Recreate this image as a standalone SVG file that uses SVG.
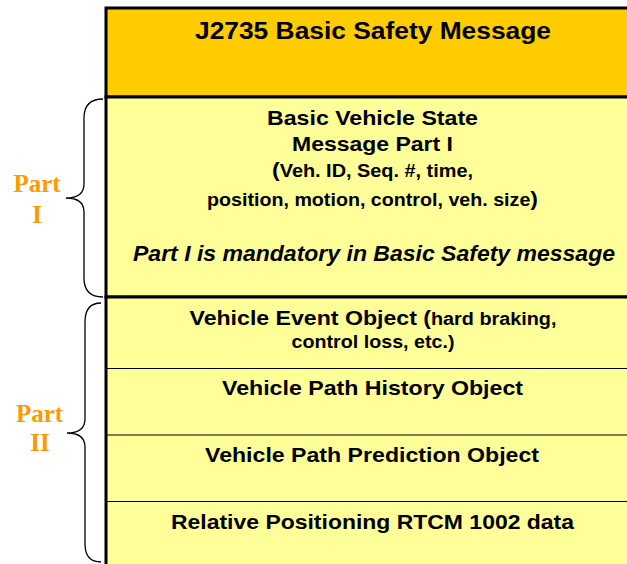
<svg xmlns="http://www.w3.org/2000/svg" width="627" height="564" viewBox="0 0 627 564">
<style>
.t{font-family:"Liberation Sans",Arial,sans-serif;font-weight:bold;fill:#000;text-anchor:middle}
.p{font-family:"Liberation Serif","Times New Roman",serif;font-weight:bold;fill:#FF9900;text-anchor:middle;font-size:25px}
.br{fill:none;stroke:#000;stroke-width:1.3}
.sep{stroke:#000;stroke-width:1.2}
</style>
<rect width="627" height="564" fill="#fff"/>
<g id="header">
<rect x="106" y="8" width="530" height="89" fill="#FFCC00" stroke="#000" stroke-width="3"/>
<text class="t" x="373" y="38.5" font-size="23.5" textLength="356" lengthAdjust="spacingAndGlyphs">J2735 Basic Safety Message</text>
</g>
<g id="part1">
<rect x="106" y="97" width="530" height="200" fill="#FFFF99" stroke="#000" stroke-width="3"/>
<text class="t" x="372.5" y="124.5" font-size="21" textLength="211" lengthAdjust="spacingAndGlyphs">Basic Vehicle State</text>
<text class="t" x="372.5" y="151" font-size="21" textLength="161" lengthAdjust="spacingAndGlyphs">Message Part I</text>
<text class="t" x="372.5" y="177" font-size="18" textLength="201" lengthAdjust="spacingAndGlyphs"><tspan font-size="21">(</tspan>Veh. ID, Seq. #, time,</text>
<text class="t" x="372.5" y="206" font-size="18" textLength="331" lengthAdjust="spacingAndGlyphs">position, motion, control, veh. size<tspan font-size="21">)</tspan></text>
<text class="t" x="374" y="261" font-size="22" font-style="italic" textLength="482" lengthAdjust="spacingAndGlyphs">Part I is mandatory in Basic Safety message</text>
</g>
<g id="part2">
<rect x="106" y="297" width="530" height="280" fill="#FFFF99" stroke="#000" stroke-width="3"/>
</g>
<g id="event">
<text class="t" x="373" y="325" font-size="21" textLength="367" lengthAdjust="spacingAndGlyphs">Vehicle Event Object (<tspan font-size="18">hard braking,</tspan></text>
<text class="t" x="373" y="348" font-size="18" textLength="163" lengthAdjust="spacingAndGlyphs">control loss, etc.)</text>
</g>
<g id="history">
<text class="t" x="372.5" y="395" font-size="21" textLength="301" lengthAdjust="spacingAndGlyphs">Vehicle Path History Object</text>
</g>
<g id="prediction">
<text class="t" x="372" y="462" font-size="21" textLength="334" lengthAdjust="spacingAndGlyphs">Vehicle Path Prediction Object</text>
</g>
<g id="rtcm">
<text class="t" x="372.5" y="529" font-size="21" textLength="403" lengthAdjust="spacingAndGlyphs">Relative Positioning RTCM 1002 data</text>
</g>
<g id="connectors">
<line class="sep" x1="107" y1="368.5" x2="627" y2="368.5"/>
<line class="sep" x1="107" y1="435" x2="627" y2="435"/>
<line class="sep" x1="107" y1="501.5" x2="627" y2="501.5"/>
<path class="br" d="M103,99 Q84,99 84,118 L84,184 Q84,198 66,198 Q84,198 84,212 L84,278 Q84,297 103,297"/>
<path class="br" d="M101,303 Q85,303 85,322 L85,419 Q85,433 67,433 Q85,433 85,447 L85,544 Q85,562 101,562"/>
</g>
<g id="label1">
<text class="p" x="37" y="192">Part</text>
<text class="p" x="37" y="223">I</text>
</g>
<g id="label2">
<text class="p" x="39.5" y="422">Part</text>
<text class="p" x="40" y="451">II</text>
</g>
</svg>
